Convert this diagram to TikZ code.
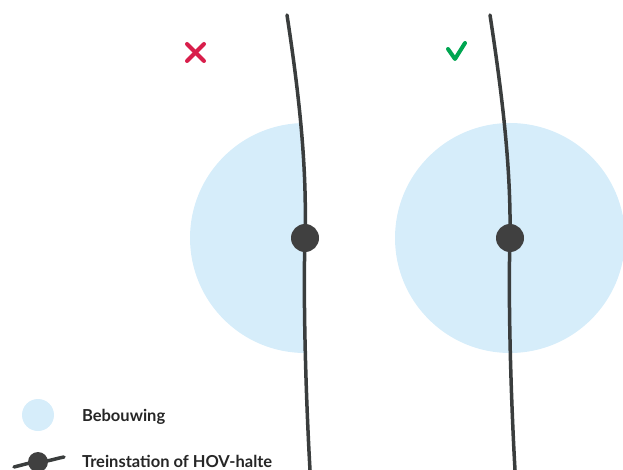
\documentclass[tikz,border=0pt]{standalone}
\usepackage{fontspec}
\setmainfont{Lato}
\usetikzlibrary{positioning}

\definecolor{bebouwing}{HTML}{D6EDFA}
\definecolor{spoor}{HTML}{3A3D3D}
\definecolor{halte}{HTML}{404040}
\definecolor{fout}{HTML}{D81E4B}
\definecolor{goed}{HTML}{00A651}

\begin{document}
\begin{tikzpicture}[
    x=1pt, y=-1pt,
    area/.style={fill=bebouwing},
    track/.style={draw=spoor, line width=3.5pt, line cap=round},
    station/.style={fill=halte},
    verdict/.style={line width=4pt, line cap=round, line join=round},
    legend/.style={font=\bfseries\fontsize{16.5}{18}\selectfont, anchor=base west, text=black!85}
]
\useasboundingbox (0,0) rectangle (623,470);

% === LEFT: station at the edge of the built-up area ===
\begin{scope}
    \clip (0,0) -- (287,15) .. controls (300,100) and (307,170) .. (305,238)
        .. controls (303,300) and (306,400) .. (310,470) -- (0,470) -- cycle;
    \fill[area] (305,238) circle (115);
\end{scope}
\draw[track] (287,15) .. controls (300,100) and (307,170) .. (305,238)
    .. controls (303,300) and (306,400) .. (310,470);
\fill[station] (305,238) circle (14);

% Red cross
\draw[verdict, fout] (187,44) -- (204,61);
\draw[verdict, fout] (204,44) -- (187,61);

% === RIGHT: station in the middle of the built-up area ===
\fill[area] (510,238) circle (115);
\draw[track] (490,15) .. controls (503,100) and (511,170) .. (510,238)
    .. controls (508,300) and (511,400) .. (515,470);
\fill[station] (510,238) circle (14);

% Green check
\draw[verdict, goed] (448,49) -- (455,59) -- (465,43);

% === Legend ===
\fill[area] (38,415) circle (16);
\node[legend] (lbebouwing) at (78.5,421) {Bebouwing};

\draw[spoor, line width=3.5pt, line cap=round] (14,467) .. controls (26,464) and (32,462) .. (38,462)
    .. controls (46,462) and (54,459) .. (64,457);
\fill[station] (38,462) circle (10);
\node[legend] (lstation) at (78.5,467.5) {Treinstation of HOV-halte};

\end{tikzpicture}
\end{document}
